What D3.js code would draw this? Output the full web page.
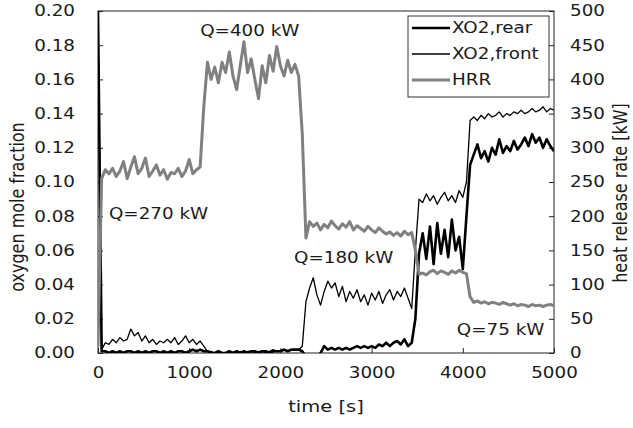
<!DOCTYPE html>
<html>
<head>
<meta charset="utf-8">
<script src="https://cdn.jsdelivr.net/npm/d3@7"></script>
<style>
  html, body { margin: 0; padding: 0; background: #fff; }
  text { font-family: "DejaVu Sans", Verdana, sans-serif; fill: #1a1a1a; }
</style>
</head>
<body>
<script>
const width = 633,
  height = 428;

// sample times [s]
const time = [0, 40, 80, 120, 160, 200, 240, 280, 320, 360, 400, 440, 480, 520, 560, 600, 640, 680, 720, 760,
  800, 840, 880, 920, 960, 1000, 1040, 1080, 1120, 1160, 1200, 1240, 1280, 1320, 1360, 1400, 1440, 1480, 1520, 1560,
  1600, 1640, 1680, 1720, 1760, 1800, 1840, 1880, 1920, 1960, 2000, 2040, 2080, 2120, 2160, 2200, 2240, 2280, 2320, 2360,
  2400, 2440, 2480, 2520, 2560, 2600, 2640, 2680, 2720, 2760, 2800, 2840, 2880, 2920, 2960, 3000, 3040, 3080, 3120, 3160,
  3200, 3240, 3280, 3320, 3360, 3400, 3440, 3480, 3520, 3560, 3600, 3640, 3680, 3720, 3760, 3800, 3840, 3880, 3920, 3960,
  4000, 4040, 4080, 4120, 4160, 4200, 4240, 4280, 4320, 4360, 4400, 4440, 4480, 4520, 4560, 4600, 4640, 4680, 4720, 4760,
  4800, 4840, 4880, 4920, 4960, 5000];

// oxygen mole fraction, rear
const xo2Rear = [0.200, 0.001, 0.001, 0.000, 0.001, 0.000, 0.001, 0.000, 0.001, 0.001, 0.000, 0.001, 0.000, 0.001, 0.000, 0.001, 0.001, 0.000, 0.001, 0.000,
  0.001, 0.000, 0.001, 0.001, 0.000, 0.001, 0.002, 0.001, 0.002, 0.001, 0.001, 0.000, 0.000, 0.001, 0.000, 0.000, 0.001, 0.000, 0.001, 0.000,
  0.001, 0.000, 0.001, 0.001, 0.000, 0.001, 0.001, 0.000, 0.001, 0.001, 0.001, 0.002, 0.001, 0.002, 0.002, 0.002, 0.001, -0.002, -0.003, -0.002,
  -0.002, 0.000, 0.004, 0.002, 0.003, 0.002, 0.003, 0.002, 0.003, 0.002, 0.003, 0.004, 0.003, 0.004, 0.003, 0.004, 0.003, 0.005, 0.004, 0.006,
  0.004, 0.006, 0.007, 0.005, 0.008, 0.004, 0.006, 0.020, 0.058, 0.070, 0.055, 0.074, 0.052, 0.076, 0.058, 0.072, 0.056, 0.078, 0.060, 0.068,
  0.049, 0.080, 0.110, 0.116, 0.122, 0.114, 0.118, 0.112, 0.120, 0.116, 0.125, 0.117, 0.121, 0.118, 0.124, 0.119, 0.122, 0.126, 0.121, 0.128,
  0.123, 0.126, 0.120, 0.125, 0.121, 0.118];

// oxygen mole fraction, front
const xo2Front = [0.200, 0.002, 0.006, 0.005, 0.008, 0.006, 0.009, 0.007, 0.008, 0.014, 0.010, 0.012, 0.007, 0.010, 0.006, 0.008, 0.005, 0.007, 0.006, 0.008,
  0.006, 0.009, 0.005, 0.007, 0.010, 0.006, 0.008, 0.005, 0.007, 0.004, 0.001, 0.001, 0.000, 0.001, 0.000, 0.000, 0.001, 0.000, 0.000, 0.001,
  0.000, 0.001, 0.001, 0.000, 0.001, 0.001, 0.000, 0.001, 0.002, 0.001, 0.001, 0.002, 0.001, 0.002, 0.002, 0.002, 0.004, 0.030, 0.038, 0.044,
  0.034, 0.028, 0.036, 0.042, 0.038, 0.041, 0.033, 0.039, 0.030, 0.036, 0.032, 0.037, 0.030, 0.034, 0.028, 0.035, 0.031, 0.036, 0.029, 0.034,
  0.037, 0.031, 0.036, 0.033, 0.038, 0.032, 0.026, 0.060, 0.090, 0.088, 0.093, 0.089, 0.092, 0.087, 0.091, 0.094, 0.089, 0.092, 0.088, 0.095,
  0.091, 0.100, 0.136, 0.138, 0.136, 0.139, 0.137, 0.140, 0.138, 0.139, 0.141, 0.138, 0.140, 0.139, 0.141, 0.140, 0.142, 0.140, 0.141, 0.143,
  0.141, 0.142, 0.144, 0.141, 0.143, 0.142];

// heat release rate [kW]
const hrr = [10, 255, 268, 262, 270, 258, 266, 280, 255, 272, 287, 262, 270, 285, 258, 266, 275, 260, 268, 254,
  264, 262, 270, 258, 266, 283, 262, 268, 272, 360, 425, 400, 418, 395, 425, 410, 440, 405, 385, 420,
  455, 410, 430, 400, 372, 420, 395, 435, 412, 448, 420, 405, 428, 410, 422, 405, 320, 168, 192, 185,
  190, 180, 188, 183, 193, 186, 181, 189, 184, 192, 180, 186, 182, 178, 185, 180, 176, 183, 178, 174,
  177, 172, 176, 171, 178, 173, 176, 150, 115, 117, 114, 119, 121, 116, 120, 118, 115, 120, 117, 121,
  118, 116, 82, 74, 76, 73, 75, 72, 74, 73, 71, 74, 72, 70, 72, 69, 71, 70, 68, 71,
  69, 70, 68, 70, 71, 69];

const seriesNames = ["XO2,rear", "XO2,front", "HRR"];
const xTicks = [0, 1000, 2000, 3000, 4000, 5000];
const yLeftTicks = [0, 0.02, 0.04, 0.06, 0.08, 0.10, 0.12, 0.14, 0.16, 0.18, 0.20];
const yRightTicks = [0, 50, 100, 150, 200, 250, 300, 350, 400, 450, 500];
const notes = [
  {label: "Q=400 kW", t: 1120, kw: 463},
  {label: "Q=270 kW", t: 120, kw: 196},
  {label: "Q=180 kW", t: 2150, kw: 131},
  {label: "Q=75 kW", t: 3935, kw: 27}
];

const margin = {top: 11, right: 79, bottom: 75, left: 98},
  innerWidth = width - margin.left - margin.right,
  innerHeight = height - margin.top - margin.bottom;

const stretchX = 1.22;

// the source picture is stretched sideways: widen glyphs to match
function widen(sel, k) {
  sel.each(function () {
    const len = this.getComputedTextLength();
    d3.select(this)
      .attr("textLength", (len * k).toFixed(1))
      .attr("lengthAdjust", "spacingAndGlyphs");
  });
}

const x = d3.scaleLinear().domain([0, 5000]).range([0, innerWidth]);
const yL = d3.scaleLinear().domain([0, 0.2]).range([innerHeight, 0]);
const yR = d3.scaleLinear().domain([0, 500]).range([innerHeight, 0]);

const svg = d3.select("body").append("svg")
    .attr("width", width)
    .attr("height", height)
    .attr("xmlns", "http://www.w3.org/2000/svg");

const g = svg.append("g")
    .attr("transform", "translate(" + margin.left + "," + margin.top + ")");

g.append("clipPath").attr("id", "plot")
  .append("rect").attr("width", innerWidth).attr("height", innerHeight);

// axes, ticks pointing inward
const axL = g.append("g")
    .call(d3.axisLeft(yL).tickValues(yLeftTicks).tickFormat(d3.format(".2f"))
      .tickSizeInner(-5).tickSizeOuter(0).tickPadding(23));
const axR = g.append("g")
    .attr("transform", "translate(" + innerWidth + ",0)")
    .call(d3.axisRight(yR).tickValues(yRightTicks).tickFormat(d3.format("d"))
      .tickSizeInner(-5).tickSizeOuter(0).tickPadding(16));
const axB = g.append("g")
    .attr("transform", "translate(0," + innerHeight + ")")
    .call(d3.axisBottom(x).tickValues(xTicks).tickFormat(d3.format("d"))
      .tickSizeInner(-5).tickSizeOuter(0).tickPadding(14));

[axL, axR, axB].forEach(function (ax) {
  ax.select(".domain").remove();
  ax.selectAll("line").attr("stroke", "#222");
  ax.selectAll("text")
    .attr("font-family", "DejaVu Sans")
    .attr("font-size", 15)
    .attr("fill", "#1a1a1a")
    .call(widen, stretchX);
});

// plot frame
g.append("rect")
    .attr("width", innerWidth)
    .attr("height", innerHeight)
    .attr("fill", "none")
    .attr("stroke", "#222")
    .attr("stroke-width", 1);

const lineL = d3.line().x(function (d, i) { return x(time[i]); }).y(function (d) { return yL(d); });
const lineR = d3.line().x(function (d, i) { return x(time[i]); }).y(function (d) { return yR(d); });

const lines = g.append("g").attr("clip-path", "url(#plot)");

lines.append("path")
    .attr("d", lineL(xo2Rear))
    .attr("fill", "none")
    .attr("stroke", "#000")
    .attr("stroke-width", 2.6)
    .attr("stroke-linejoin", "round");

lines.append("path")
    .attr("d", lineL(xo2Front))
    .attr("fill", "none")
    .attr("stroke", "#000")
    .attr("stroke-width", 1.3)
    .attr("stroke-linejoin", "round");

lines.append("path")
    .attr("d", lineR(hrr))
    .attr("fill", "none")
    .attr("stroke", "#808080")
    .attr("stroke-width", 3)
    .attr("stroke-linejoin", "round");

// annotations
g.selectAll(".note")
    .data(notes)
  .enter().append("text")
    .attr("class", "note")
    .attr("x", function (d) { return x(d.t); })
    .attr("y", function (d) { return yR(d.kw); })
    .attr("font-size", 15)
    .text(function (d) { return d.label; })
    .call(widen, stretchX);

// legend
const legend = svg.append("g").attr("transform", "translate(408,16)");
legend.append("rect")
    .attr("width", 141)
    .attr("height", 81)
    .attr("fill", "#fff")
    .attr("stroke", "#333")
    .attr("stroke-width", 1);
const legendStyle = [
  {color: "#000", w: 2.6},
  {color: "#000", w: 1.3},
  {color: "#808080", w: 3}
];
seriesNames.forEach(function (name, i) {
  const yy = 12 + i * 26;
  legend.append("line")
      .attr("x1", 4).attr("x2", 42)
      .attr("y1", yy).attr("y2", yy)
      .attr("stroke", legendStyle[i].color)
      .attr("stroke-width", legendStyle[i].w);
  legend.append("text")
      .attr("x", 44)
      .attr("y", yy + 5)
      .attr("font-size", 15)
      .text(name)
      .call(widen, stretchX);
});

// axis titles
svg.append("text")
    .attr("text-anchor", "middle")
    .attr("font-size", 16)
    .attr("x", margin.left + innerWidth / 2)
    .attr("y", 412)
    .text("time [s]")
    .call(widen, stretchX);

svg.append("text")
    .attr("text-anchor", "middle")
    .attr("font-size", 16)
    .attr("transform", "translate(24,207) scale(" + stretchX + ",1) rotate(-90)")
    .text("oxygen mole fraction");

svg.append("text")
    .attr("text-anchor", "middle")
    .attr("font-size", 16)
    .attr("transform", "translate(627,193) scale(" + stretchX + ",1) rotate(-90)")
    .text("heat release rate [kW]");
</script>
</body>
</html>
